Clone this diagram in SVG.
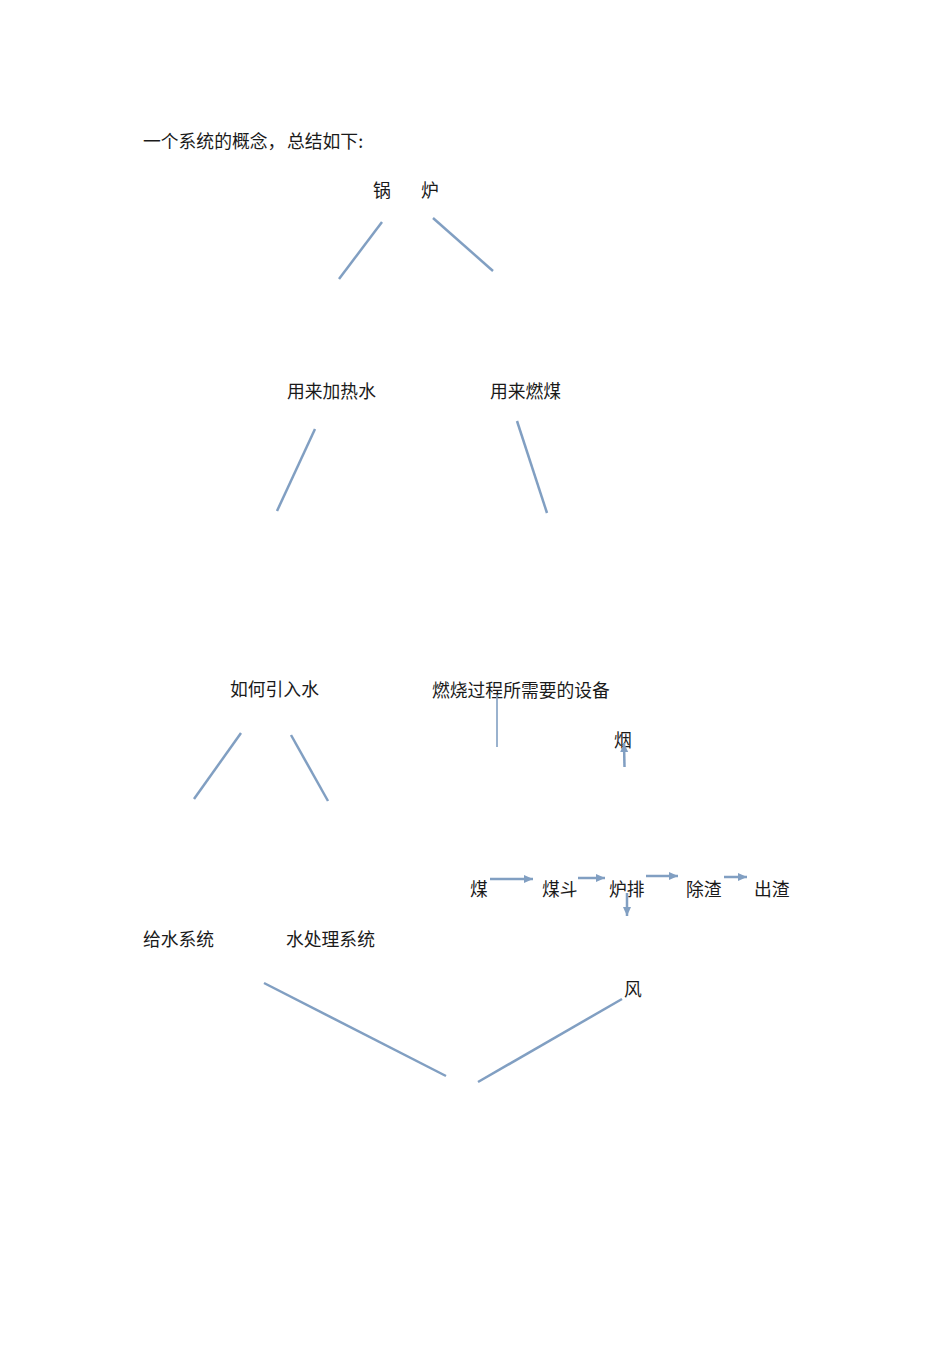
<svg xmlns="http://www.w3.org/2000/svg" width="950" height="1345" viewBox="0 0 950 1345">
<style>
.t{font-family:"Noto Sans CJK SC","Noto Sans",sans-serif;font-size:17.8px;fill:#1a1a1a}
.c{stroke:#819fc2;stroke-width:2.5;fill:none;stroke-linecap:butt}
.thin{stroke-width:1.6}
.a{marker-end:url(#ah)}
</style>
<defs>
<marker id="ah" markerUnits="userSpaceOnUse" markerWidth="10" markerHeight="9" refX="9" refY="4" orient="auto">
<path d="M0,0 L9,4 L0,8 z" fill="#819fc2"/>
</marker>
</defs>
<rect width="950" height="1345" fill="#ffffff"/>
<g id="title"><text class="t" x="143" y="147.5" font-size="17.2">一个系统的概念，<tspan x="287">总结如下:</tspan></text></g>
<g id="guolu"><text class="t" x="373" y="197">锅<tspan x="421">炉</tspan></text></g>
<g id="jiare"><text class="t" x="287" y="397.5">用来加热水</text></g>
<g id="ranmei"><text class="t" x="490" y="397.5">用来燃煤</text></g>
<g id="yinshui"><text class="t" x="230" y="696">如何引入水</text></g>
<g id="shebei"><text class="t" x="432" y="696.5">燃烧过程所需要的设备</text></g>
<g id="yan"><text class="t" x="614" y="746.5">烟</text></g>
<g id="mei"><text class="t" x="470" y="895.5">煤</text></g>
<g id="meidou"><text class="t" x="542" y="895.5">煤斗</text></g>
<g id="lupai"><text class="t" x="609" y="895.5">炉排</text></g>
<g id="chuzha"><text class="t" x="686" y="895.5">除渣</text></g>
<g id="chuzha2"><text class="t" x="754" y="895.5">出渣</text></g>
<g id="geishui"><text class="t" x="143" y="945.5">给水系统</text></g>
<g id="shuichuli"><text class="t" x="286" y="945.5">水处理系统</text></g>
<g id="feng"><text class="t" x="624" y="995.5">风</text></g>
<g id="connectors">
<line class="c" x1="382" y1="222" x2="339" y2="279"/>
<line class="c" x1="433" y1="218" x2="493" y2="271"/>
<line class="c" x1="315" y1="429" x2="277" y2="511"/>
<line class="c" x1="517" y1="421" x2="547" y2="513"/>
<line class="c" x1="241" y1="733" x2="194" y2="799"/>
<line class="c" x1="291" y1="735" x2="328" y2="801"/>
<line class="c thin" x1="497" y1="695" x2="497" y2="747"/>
<line class="c" x1="264" y1="983" x2="446" y2="1076"/>
<line class="c" x1="478" y1="1082" x2="622" y2="999"/>
<line class="c a" x1="490" y1="879" x2="533" y2="879" stroke-width="3"/>
<line class="c a" x1="578" y1="878" x2="605" y2="878"/>
<line class="c a" x1="646" y1="876" x2="678" y2="876"/>
<line class="c a" x1="724" y1="877" x2="747" y2="877"/>
<line class="c a" x1="627" y1="893" x2="627" y2="916"/>
<line class="c a" x1="624.5" y1="767" x2="624" y2="743"/>
</g>
</svg>
